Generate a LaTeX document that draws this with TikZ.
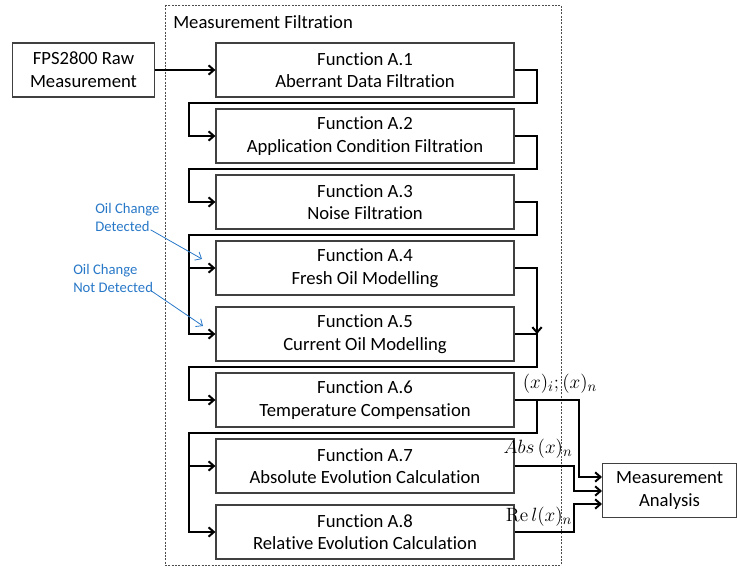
\documentclass[tikz,border=0pt]{standalone}
\usepackage[no-math]{fontspec}
\setmainfont{Carlito}[Ligatures=NoCommon]
\usetikzlibrary{arrows.meta,calc}
\definecolor{notecol}{RGB}{40,120,200}
\begin{document}
\begin{tikzpicture}[x=0.75pt, y=-0.75pt, >={Straight Barb[length=4pt,width=7pt]}]
\tikzset{
  fnbox/.style={draw=black!75, line width=0.9pt, minimum width=223.5pt, minimum height=40.5pt,
                align=center, inner sep=0pt, font=\fontsize{14}{17}\selectfont},
  flow/.style={->, line width=1.5pt},
  note/.style={notecol, inner sep=0pt, align=left, font=\fontsize{11}{13.5}\selectfont},
  noteline/.style={->, notecol, line width=0.6pt},
  sig/.style={inner sep=0pt, font=\fontsize{15}{17}\selectfont},
}
\useasboundingbox (0,0) rectangle (737,567);
% measurement filtration frame
\draw[black!70, line width=0.6pt, dash pattern=on 1.5pt off 1pt] (165,5) rectangle (561,565);
\node[anchor=west, inner sep=0pt, font=\fontsize{14}{17}\selectfont] (title) at (173,22) {Measurement Filtration};
\node[fnbox, minimum width=107pt] (raw) at (83.5,70) {FPS2800 Raw\\Measurement};
\node[fnbox, minimum width=100pt] (ma) at (669.5,490.5) {Measurement\\Analysis};
% function boxes
\foreach \i/\txt in {1/Aberrant Data Filtration, 2/Application Condition Filtration,
                     3/Noise Filtration, 4/Fresh Oil Modelling, 5/Current Oil Modelling,
                     6/Temperature Compensation, 7/Absolute Evolution Calculation,
                     8/Relative Evolution Calculation}{
  \node[fnbox] (f\i) at (365,70+66*\i-66) {Function A.\i\\\txt};
  \coordinate (r\i) at (537,103+66*\i-66);
  \coordinate (l\i) at (189,103+66*\i-66);
}
\coordinate (m5) at (537,334);
\coordinate (o6) at (579,477);
\coordinate (o7) at (574,491);
\coordinate (o8) at (574,504);
\coordinate (in6) at (602,477);
\coordinate (in7) at (602,491);
\coordinate (in8) at (602,504);
% sequence
\draw[flow] (raw) -- (f1);
\foreach \i/\j in {1/2,2/3,3/4,5/6,6/7}
  \draw[flow] (f\i.east) -| (r\i) -- (l\i) |- (f\j.west);
\draw[flow] (l3) |- (f5.west);
\draw[flow] (l6) |- (f8.west);
\draw[flow] (f4.east) -| (m5);
% outputs
\draw[flow] (f6.east) -| (o6) -- (in6);
\draw[flow] (f7.east) -| (o7) -- (in7);
\draw[flow] (f8.east) -| (o8) -- (in8);
\node[sig] (s6) at (560,384) {$(x)_i;(x)_n$};
\node[sig] (s7) at (538,449) {$Abs\,(x)_n$};
\node[sig] (s8) at (539,517) {$\mathrm{Re}\,l(x)_n$};
% oil change notes
\node[note, anchor=north west] (det) at (95,203) {Oil Change\\Detected};
\node[note, anchor=north west] (ndet) at (73,264) {Oil Change\\Not Detected};
\coordinate (t4) at (202,259);
\coordinate (t5) at (203,326);
\draw[noteline] ($(det.south east)+(-9,-2)$) -- (t4);
\draw[noteline] ($(ndet.south east)+(-2,-2)$) -- (t5);
\end{tikzpicture}
\end{document}
